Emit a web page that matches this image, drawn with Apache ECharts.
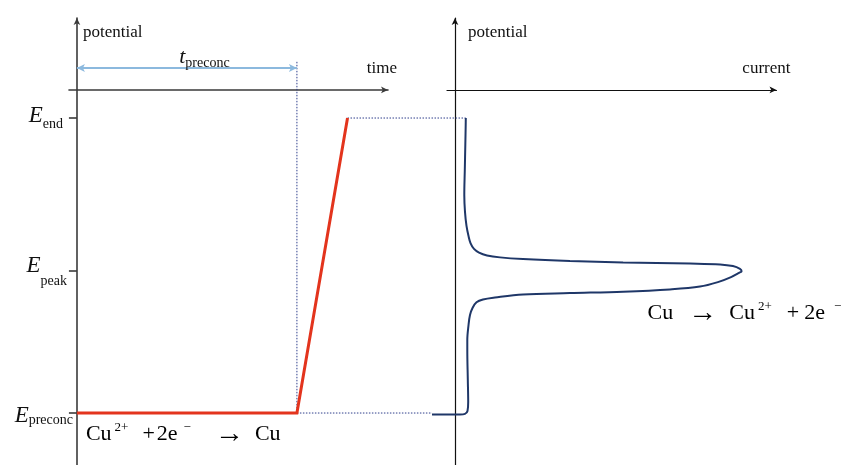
<!DOCTYPE html>
<html>
<head>
<meta charset="utf-8">
<script src="https://cdn.jsdelivr.net/npm/echarts@6/dist/echarts.min.js"></script>
<style>
  html, body { margin: 0; padding: 0; background: #ffffff; }
  #chart { width: 841px; height: 465px; }
</style>
</head>
<body>
<div id="chart"></div>
<script>
// Potential levels (arbitrary units; the time/current axes sit at 0)
const E_END = -0.1;
const E_PEAK = -0.645;
const E_PRECONC = -1.15;
const potentialTicks = [E_END, E_PEAK, E_PRECONC];
const potentialTickNames = ['end', 'peak', 'preconc'];

// Potential programme: hold at E_preconc for t_preconc, then sweep to E_end
const T_PRECONC = 10;
const stepTime = [0, T_PRECONC, 12.3];
const stepPotential = [E_PRECONC, E_PRECONC, E_END];

// Level of the t_preconc span arrow and top of its guide line
const SPAN_LEVEL = 0.078;
const GUIDE_TOP = 0.1;

// Stripping voltammogram (current, potential), traced from the deposition end to E_end
const curveCurrent = [
  -7.18, -2.81, 1.56, 3.12, 3.90, 4.12, 4.00, 3.84, 3.84, 4.22,
  4.68, 5.47, 6.71, 8.74, 12.49, 21.24, 35.9, 52.5, 67.1, 76.5,
  82.1, 86.2, 88.7, 89.5, 89.0, 86.8, 82.8, 73.4, 52.5, 35.9,
  21.24, 14.05, 9.99, 7.50, 5.93, 4.84, 4.22, 3.59, 3.12, 2.90,
  3.06, 3.22, 3.34, 3.37
];
const curvePotential = [
  -1.155, -1.155, -1.155, -1.153, -1.143, -1.111, -1.032, -0.926, -0.890, -0.837,
  -0.801, -0.776, -0.756, -0.746, -0.739, -0.728, -0.723, -0.718, -0.710, -0.700,
  -0.684, -0.666, -0.651, -0.645, -0.637, -0.627, -0.621, -0.618, -0.614, -0.609,
  -0.602, -0.596, -0.589, -0.579, -0.566, -0.545, -0.520, -0.484, -0.434, -0.374,
  -0.285, -0.196, -0.125, -0.100
];

const SERIF = '"Liberation Serif", "DejaVu Serif", serif';
const RED = '#e3341d';
const NAVY = '#1f3768';
const DOT = '#2f3f8c';
const SPAN = '#8cb9de';

// Shared potential scale for both panels
const P_MIN = -1.335, P_MAX = 0.256;
// Current scale: the visible axis starts just left of zero, the trace's own grid starts further left
const I_AXIS_MIN = -2.5, I_TRACE_MIN = -9.37, I_MAX = 100.4;

const chart = echarts.init(document.getElementById('chart'), null, { renderer: 'canvas' });

function arrowAxisLine(color, width) {
  return {
    show: true,
    onZero: true,
    symbol: ['none', 'arrow'],
    symbolSize: [5, 7],
    lineStyle: { color: color, width: width }
  };
}

const nameStyle = { fontFamily: SERIF, fontSize: 17, lineHeight: 17, color: '#111' };
const hidden = {
  axisLine: { show: false }, axisTick: { show: false },
  axisLabel: { show: false }, splitLine: { show: false }
};

// Rich styles for the E tick labels: a spacer sets the line box, E and its subscript sit in it
function eStyles(i, L, eAlign, sLH, padR) {
  const r = {};
  r['z' + i] = { fontFamily: SERIF, fontSize: 8, lineHeight: L, color: 'rgba(0,0,0,0)' };
  r['E' + i] = { fontFamily: SERIF, fontStyle: 'italic', fontSize: 23, lineHeight: 22, color: '#111', verticalAlign: eAlign };
  r['s' + i] = { fontFamily: SERIF, fontSize: 14, lineHeight: sLH, color: '#111', verticalAlign: 'bottom', padding: [0, padR, 0, 0] };
  return r;
}
const eRich = Object.assign({},
  eStyles(0, 27, 'top', 14, 10),
  eStyles(1, 34, 'top', 23, 6),
  eStyles(2, 29, 'bottom', 11, 0)
);

const option = {
  animation: false,
  backgroundColor: '#ffffff',
  grid: [
    { left: 69, top: 18, width: 319, height: 447 },
    { left: 447, top: 18, width: 329.5, height: 447 },
    { left: 425, top: 18, width: 351.5, height: 447 }
  ],
  xAxis: [
    {
      type: 'value', gridIndex: 0, min: -0.36, max: 14.14,
      axisLine: arrowAxisLine('#3a3a3a', 1.6),
      axisTick: { show: false }, axisLabel: { show: false }, splitLine: { show: false },
      name: 'time', nameLocation: 'end', nameGap: 9,
      nameTextStyle: Object.assign({ align: 'right', verticalAlign: 'bottom', padding: [0, 0, 13, 0] }, nameStyle)
    },
    {
      type: 'value', gridIndex: 1, min: I_AXIS_MIN, max: I_MAX,
      axisLine: arrowAxisLine('#111111', 1.2),
      axisTick: { show: false }, axisLabel: { show: false }, splitLine: { show: false },
      name: 'current', nameLocation: 'end', nameGap: 14,
      nameTextStyle: Object.assign({ align: 'right', verticalAlign: 'bottom', padding: [0, 0, 13, 0] }, nameStyle)
    },
    Object.assign({ type: 'value', gridIndex: 2, min: I_TRACE_MIN, max: I_MAX }, hidden)
  ],
  yAxis: [
    {
      type: 'value', gridIndex: 0, min: P_MIN, max: P_MAX,
      axisLine: arrowAxisLine('#3a3a3a', 1.6),
      axisTick: {
        show: true, inside: false, length: 8, customValues: potentialTicks,
        lineStyle: { color: '#3a3a3a', width: 1.6 }
      },
      axisLabel: {
        show: true, margin: -4, customValues: potentialTicks,
        formatter: function (v) {
          const i = potentialTicks.findIndex(function (t) { return Math.abs(t - v) < 1e-6; });
          if (i < 0) return '';
          return '{z' + i + '| }{E' + i + '|E}{s' + i + '|' + potentialTickNames[i] + '}';
        },
        rich: eRich
      },
      splitLine: { show: false },
      name: 'potential', nameLocation: 'end', nameGap: -6,
      nameTextStyle: Object.assign({ align: 'left', verticalAlign: 'top', padding: [0, 0, 0, 6] }, nameStyle)
    },
    {
      type: 'value', gridIndex: 1, min: P_MIN, max: P_MAX,
      axisLine: arrowAxisLine('#111111', 1.2),
      axisTick: { show: false }, axisLabel: { show: false }, splitLine: { show: false },
      name: 'potential', nameLocation: 'end', nameGap: -6,
      nameTextStyle: Object.assign({ align: 'left', verticalAlign: 'top', padding: [0, 0, 0, 13] }, nameStyle)
    },
    Object.assign({ type: 'value', gridIndex: 2, min: P_MIN, max: P_MAX }, hidden)
  ],
  series: [
    {
      // end of the deposition step, with the t_preconc span arrow
      type: 'line', xAxisIndex: 0, yAxisIndex: 0,
      data: [[T_PRECONC, GUIDE_TOP], [T_PRECONC, E_PRECONC]],
      symbol: 'none', silent: true, z: 2,
      lineStyle: { color: DOT, width: 1, type: [1.5, 1.5] },
      markLine: {
        silent: true, animation: false,
        symbol: ['arrow', 'arrow'], symbolSize: [6, 8],
        lineStyle: { color: SPAN, width: 1.8, type: 'solid' },
        label: {
          show: true, position: 'middle', distance: -2,
          formatter: '{t|t}{s|preconc}',
          rich: {
            t: { fontFamily: SERIF, fontStyle: 'italic', fontSize: 22, lineHeight: 22, color: '#111', padding: [0, 0, 4, 35] },
            s: { fontFamily: SERIF, fontSize: 14, lineHeight: 10, color: '#111', verticalAlign: 'bottom' }
          }
        },
        data: [[{ coord: [0, SPAN_LEVEL] }, { coord: [T_PRECONC, SPAN_LEVEL] }]]
      }
    },
    {
      // applied potential vs time
      type: 'line', xAxisIndex: 0, yAxisIndex: 0,
      data: stepTime.map(function (t, i) { return [t, stepPotential[i]]; }),
      symbol: 'none', silent: true, z: 3,
      lineStyle: { color: RED, width: 3, join: 'miter' }
    },
    {
      // stripping current vs potential
      type: 'line', xAxisIndex: 2, yAxisIndex: 2,
      data: curveCurrent.map(function (c, i) { return [c, curvePotential[i]]; }),
      symbol: 'none', silent: true, z: 3,
      smooth: 0.35,
      lineStyle: { color: NAVY, width: 2 }
    }
  ]
};

chart.setOption(option);

// Dotted connectors between the two panels at E_end and E_preconc
const last = curveCurrent.length - 1;
const traceCoord = { xAxisIndex: 2, yAxisIndex: 2 };
const timeCoord = { xAxisIndex: 0, yAxisIndex: 0 };
const rampTop = chart.convertToPixel(timeCoord, [stepTime[2], stepPotential[2]]);
const curveTop = chart.convertToPixel(traceCoord, [curveCurrent[last], curvePotential[last]]);
const stepEnd = chart.convertToPixel(timeCoord, [T_PRECONC, E_PRECONC]);
const curveStart = chart.convertToPixel(traceCoord, [curveCurrent[0], curvePotential[0]]);
const holdStart = chart.convertToPixel(timeCoord, [0, E_PRECONC]);
const peakTip = chart.convertToPixel(traceCoord, [89.5, E_PEAK]);

const dotted = { stroke: DOT, lineWidth: 1, lineDash: [1.5, 1.5] };

function reactionRich(g) {
  const base = { fontFamily: SERIF, fontSize: 22, lineHeight: 26, color: '#111' };
  const sup = { fontFamily: SERIF, fontSize: 13, lineHeight: 7, color: '#111', verticalAlign: 'top' };
  return {
    a: base,
    p: Object.assign({}, sup, { padding: [0, 0, 0, g.p] }),
    b: Object.assign({}, base, { padding: [0, 0, 0, g.b] }),
    e: Object.assign({}, base, { padding: [0, 0, 0, g.e] }),
    m: Object.assign({}, sup, { padding: [0, 0, 0, g.m] }),
    r: Object.assign({}, base, { fontSize: 29, padding: [0, 0, 0, g.r] }),
    c: Object.assign({}, base, { padding: [0, 0, 0, g.c] })
  };
}

chart.setOption({
  graphic: [
    { type: 'line', z: 1, silent: true, shape: { x1: rampTop[0], y1: rampTop[1], x2: curveTop[0], y2: rampTop[1] }, style: dotted },
    { type: 'line', z: 1, silent: true, shape: { x1: stepEnd[0], y1: stepEnd[1], x2: curveStart[0], y2: stepEnd[1] }, style: dotted },
    {
      type: 'text', silent: true,
      x: holdStart[0] + 9, y: holdStart[1] + 8,
      style: {
        text: '{a|Cu}{p|2+}{b|+}{e|2e}{m|\u2212}{r|\u2192}{c|Cu}',
        rich: reactionRich({ p: 3, b: 14, e: 2, m: 6, r: 24, c: 11 })
      }
    },
    {
      type: 'text', silent: true,
      x: peakTip[0] - 94, y: peakTip[1] + 29,
      style: {
        text: '{a|Cu}{r|\u2192}{c|Cu}{p|2+}{b|+}{e|2e}{m|\u2212}',
        rich: reactionRich({ p: 3, b: 15, e: 5, m: 9, r: 15, c: 12 })
      }
    }
  ]
});
</script>
</body>
</html>
